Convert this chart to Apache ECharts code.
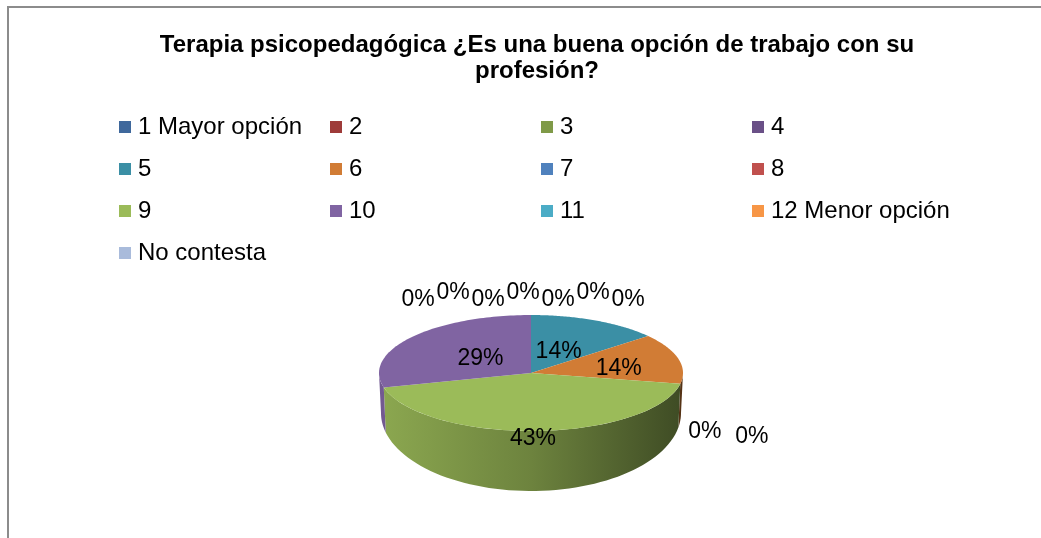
<!DOCTYPE html>
<html>
<head>
<meta charset="utf-8">
<script src="https://cdn.jsdelivr.net/npm/echarts@6/dist/echarts.min.js"></script>
<style>
  html, body { margin: 0; padding: 0; background: #fff; overflow: hidden; }
  #frame { position: absolute; left: 7px; top: 6px; width: 1100px; height: 600px;
           border-top: 2px solid #8c8c8c; border-left: 2px solid #8c8c8c; }
  #chart { position: absolute; left: 0; top: 0; width: 1041px; height: 538px; }
</style>
</head>
<body>
<div id="frame"></div>
<div id="chart"></div>
<script>
const categories = ["1 Mayor opción", "2", "3", "4", "5", "6", "7", "8", "9", "10", "11", "12 Menor opción", "No contesta"];
const percents = [0, 0, 0, 0, 14, 14, 0, 0, 43, 29, 0, 0, 0];
const palette = ["#3f689c", "#9e3b39", "#7f9a48", "#6a5087", "#3b8fa5", "#d17c35", "#4f81bd",
                 "#c0504d", "#9bbb59", "#8064a2", "#4bacc6", "#f79646", "#a9bbdb"];
const titleText = "Terapia psicopedagógica ¿Es una buena opción de trabajo con su\nprofesión?";

// 3d pie geometry (top face ellipse + bottom ellipse for the rim)
const cx = 531, cy = 373, rx = 152, ry = 58;
const bcy = 413, brx = 150, bry = 78;
const FONT = "Liberation Sans, Arial, sans-serif";

const total = percents.reduce((a, b) => a + b, 0);
const starts = [];
let acc = 0;
percents.forEach(v => { starts.push(acc / total * 360); acc += v; });

const rad = d => d * Math.PI / 180;
function topPt(t, k = 1) { return [cx + k * rx * Math.sin(rad(t)), cy - k * ry * Math.cos(rad(t))]; }
function botPt(t, k = 1) { return [cx + k * brx * Math.sin(rad(t)), bcy - k * bry * Math.cos(rad(t))]; }

function shade(hex, f) {
  const n = parseInt(hex.slice(1), 16);
  const r = Math.round(((n >> 16) & 255) * f), g = Math.round(((n >> 8) & 255) * f), b = Math.round((n & 255) * f);
  return `rgb(${r},${g},${b})`;
}

// where the 0% labels go: group them by the angle they sit at, then spread
const zeroPos = {};
(function () {
  const groups = {};
  percents.forEach((v, i) => {
    if (v !== 0) return;
    const a = starts[i] % 360;
    const key = a.toFixed(2);
    (groups[key] = groups[key] || []).push({ i, order: starts[i] >= 360 ? i - 13 : i, a });
  });
  Object.values(groups).forEach(list => {
    list.sort((p, q) => p.order - q.order);
    const a = list[0].a, s = Math.sin(rad(a)), c = Math.cos(rad(a));
    const base = c >= 0 ? topPt(a) : botPt(a);
    const ax = base[0] + s * 27, ay = base[1] - c * 19;
    const n = list.length;
    list.forEach((p, k) => {
      if (Math.abs(s) < 0.3) {
        zeroPos[p.i] = [ax - 8 + (k - (n - 1) / 2) * 35, ay + (k % 2 === 0 ? 4 : -3)];
      } else {
        zeroPos[p.i] = [ax + Math.sign(s) * k * 47, ay + k * 5];
      }
    });
  });
})();

function renderSlice(i) {
  return function (params, api) {
    const v = api.value(0);
    const color = api.visual("color");
    const a0 = starts[i], a1 = a0 + v / total * 360;
    const children = [];
    if (v > 0) {
      // visible rim (front half only)
      const s = Math.max(a0, 90), e = Math.min(a1, 270);
      if (e > s) {
        const pts = [];
        for (let t = s; t <= e + 1e-6; t += (e - s) / 60) pts.push(topPt(t));
        for (let t = e; t >= s - 1e-6; t -= (e - s) / 60) pts.push(botPt(t));
        children.push({
          type: "polygon",
          shape: { points: pts },
          style: {
            fill: new echarts.graphic.LinearGradient(cx - rx, 0, cx + rx, 0, [
              { offset: 0, color: shade(color, 0.9) },
              { offset: 0.5, color: shade(color, 0.7) },
              { offset: 1, color: shade(color, 0.4) }
            ], true)
          }
        });
      }
      // top face
      const top = [[cx, cy]];
      for (let t = a0; t <= a1 + 1e-6; t += (a1 - a0) / 80) top.push(topPt(t));
      children.push({ type: "polygon", shape: { points: top }, style: { fill: color } });
      // value label
      const m = (a0 + a1) / 2;
      const sm = Math.sin(rad(m));
      const x = cx + (0.42 + 0.2 * Math.max(0, sm) ** 4) * rx * sm;
      const y = cy - 0.45 * ry * Math.cos(rad(m)) + 0.63 * 60 * Math.max(0, -Math.cos(rad(m))) + 2;
      children.push({
        type: "text", z2: 10,
        style: { text: Math.round(v / total * 100) + "%", x, y, fill: "#000",
                 fontSize: 23, fontFamily: FONT, align: "center", verticalAlign: "middle" }
      });
    } else {
      const p = zeroPos[i];
      children.push({
        type: "text", z2: 10,
        style: { text: "0%", x: p[0], y: p[1], fill: "#000",
                 fontSize: 23, fontFamily: FONT, align: "center", verticalAlign: "middle" }
      });
    }
    return { type: "group", children };
  };
}

const legendCols = [0, 1, 2, 3].map(c => ({
  orient: "vertical",
  left: 119 + c * 211,
  top: 115,
  padding: 0,
  itemWidth: 12,
  itemHeight: 12,
  itemGap: 18,
  icon: "rect",
  selectedMode: false,
  data: categories.filter((_, i) => i % 4 === c),
  textStyle: { fontSize: 24, lineHeight: 24, fontFamily: FONT, color: "#000", padding: [0, 0, 0, 2] }
}));

const chart = echarts.init(document.getElementById("chart"), null, { renderer: "canvas" });
chart.setOption({
  animation: false,
  color: palette,
  title: {
    text: titleText,
    left: 532,
    textAlign: "center",
    top: 27,
    textStyle: { fontSize: 24, fontWeight: "bold", lineHeight: 26, fontFamily: FONT, color: "#000" }
  },
  legend: legendCols,
  series: categories.map((name, i) => ({
    type: "custom",
    name,
    coordinateSystem: "none",
    renderItem: renderSlice(i),
    data: [[percents[i]]]
  }))
});
</script>
</body>
</html>
